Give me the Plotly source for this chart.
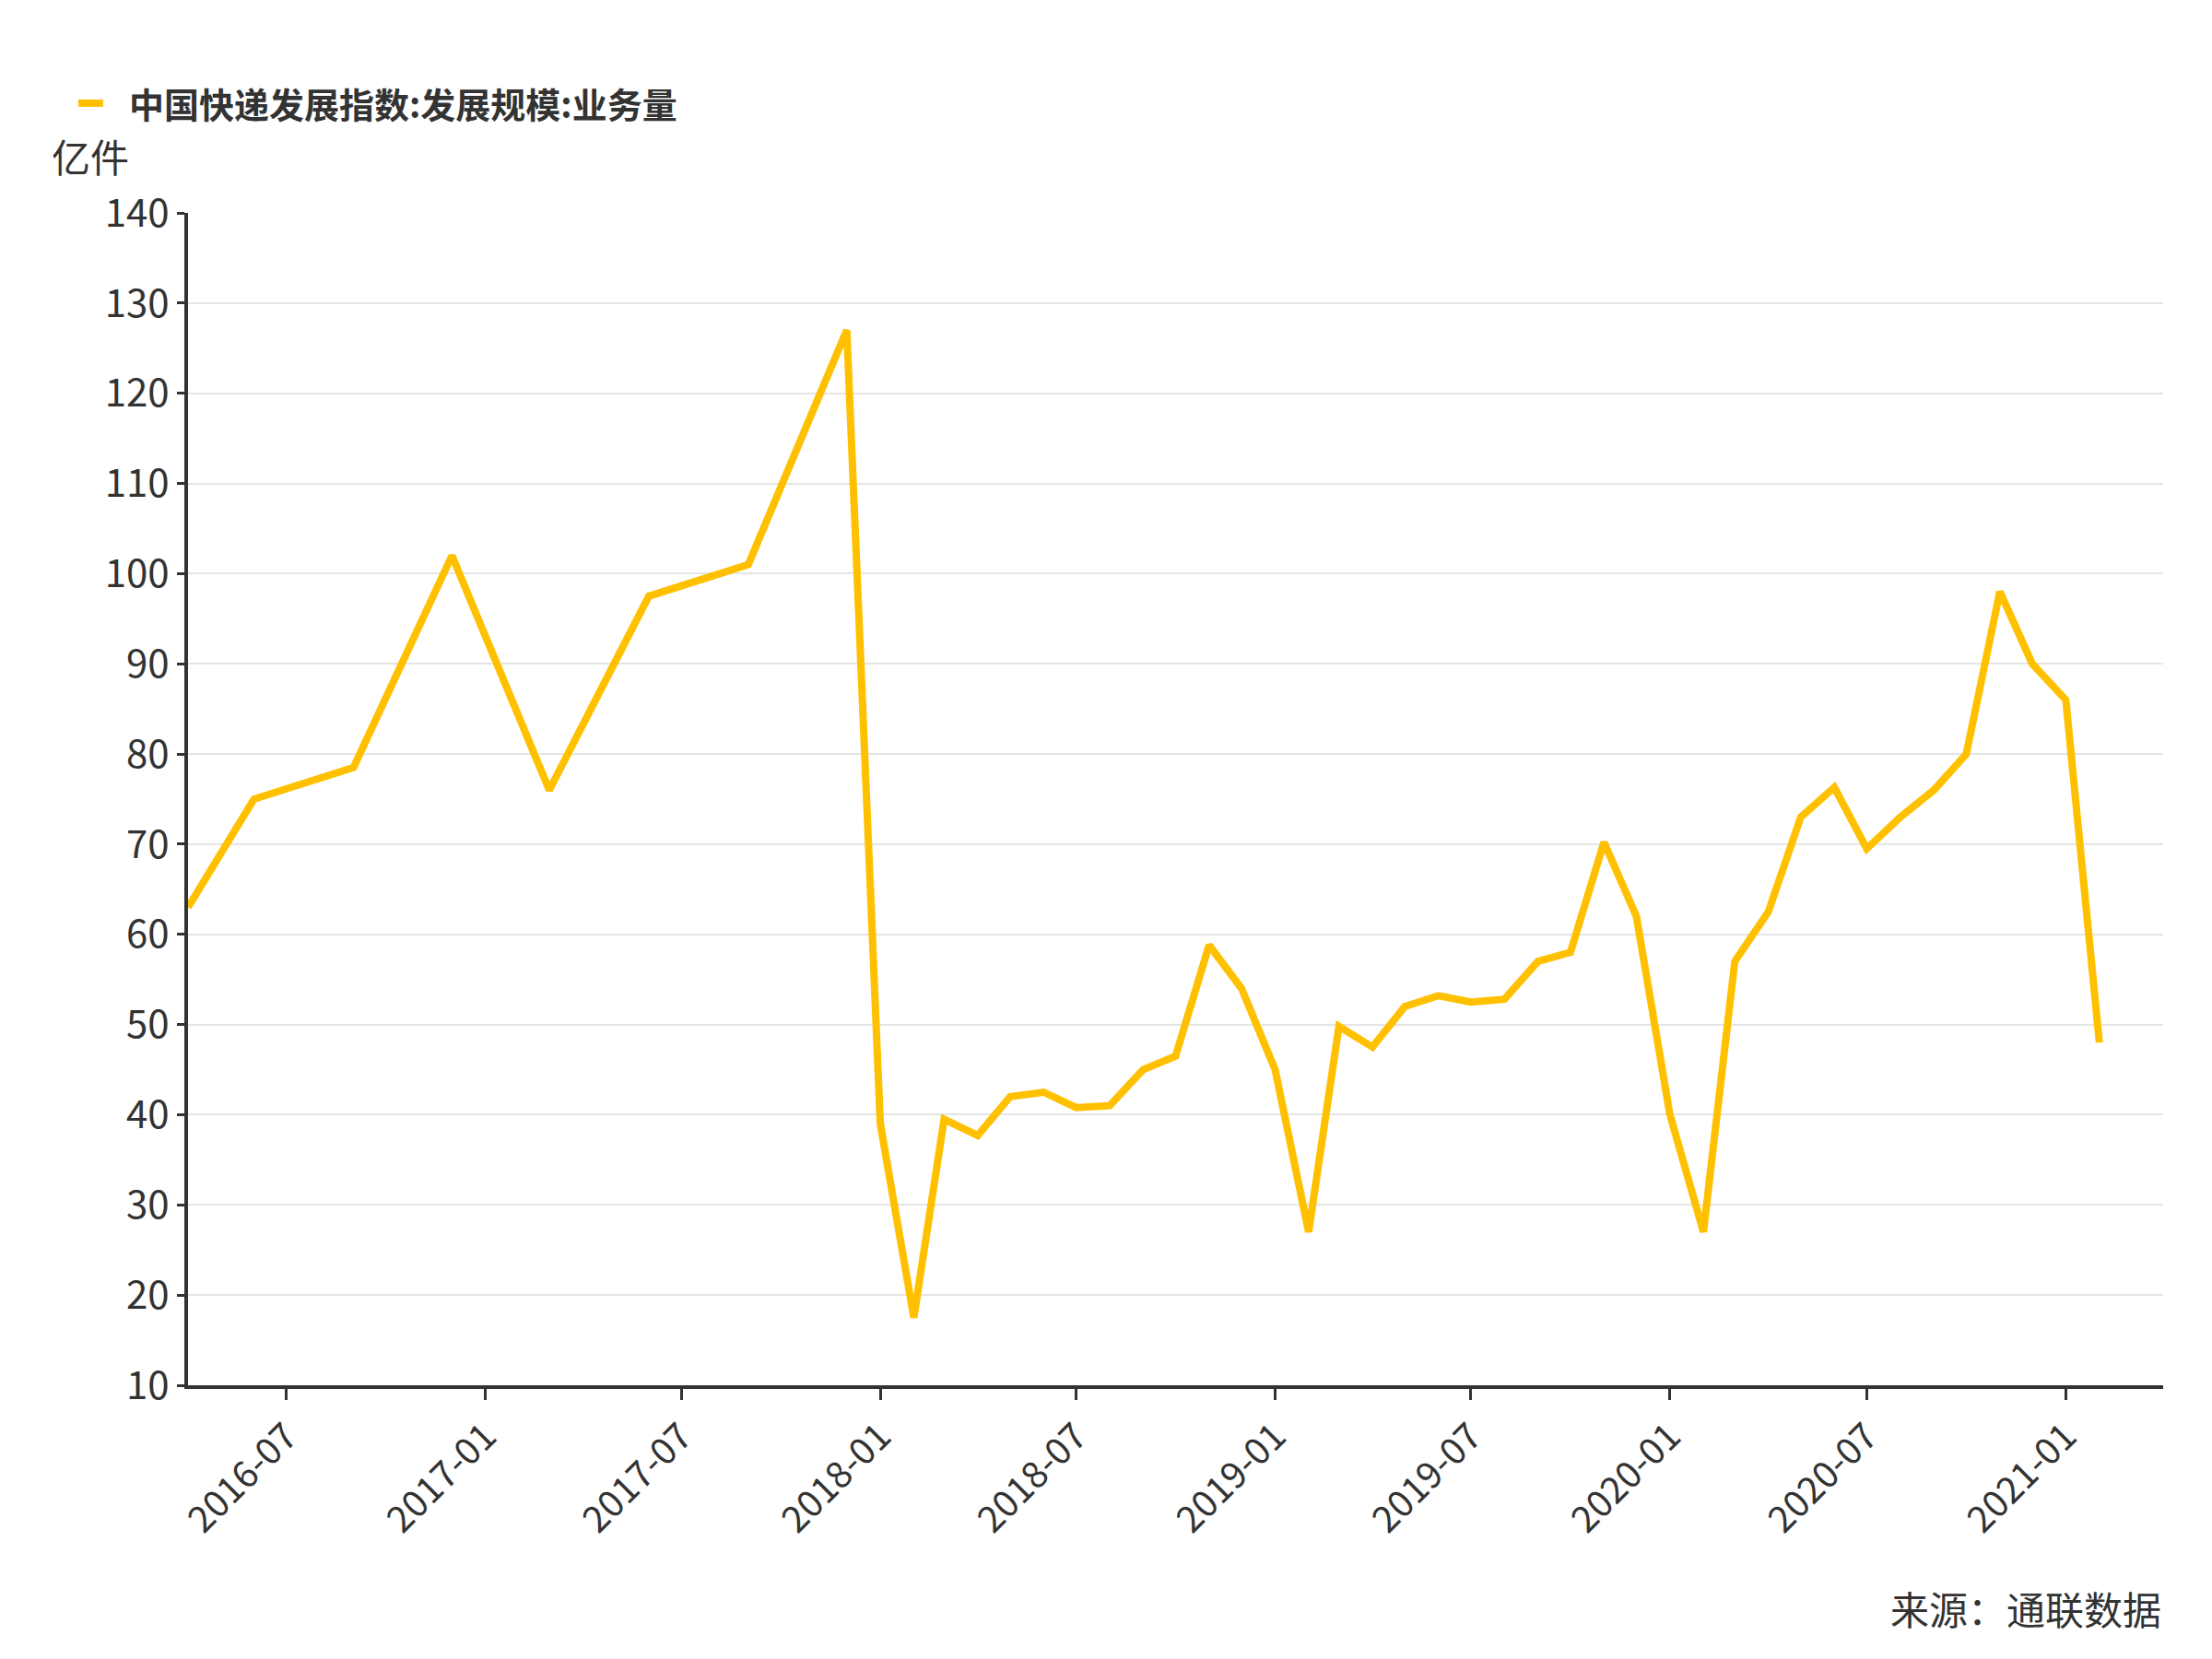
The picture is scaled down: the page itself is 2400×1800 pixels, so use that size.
import pandas as pd
import plotly.graph_objects as go

months = [
    "2016-04", "2016-06", "2016-09", "2016-12", "2017-03", "2017-06", "2017-09", "2017-12",
    "2018-01", "2018-02", "2018-03", "2018-04", "2018-05", "2018-06", "2018-07", "2018-08",
    "2018-09", "2018-10", "2018-11", "2018-12", "2019-01", "2019-02", "2019-03", "2019-04",
    "2019-05", "2019-06", "2019-07", "2019-08", "2019-09", "2019-10", "2019-11", "2019-12",
    "2020-01", "2020-02", "2020-03", "2020-04", "2020-05", "2020-06", "2020-07", "2020-08",
    "2020-09", "2020-10", "2020-11", "2020-12", "2021-01", "2021-02",
]
volume = [
    63, 75, 78.5, 102, 76, 97.5, 101, 127,
    39, 17.5, 39.5, 37.7, 42, 42.5, 40.8, 41,
    45, 46.5, 58.8, 54, 45, 27, 49.8, 47.5,
    52, 53.2, 52.5, 52.8, 57, 58, 70.2, 62,
    40, 27, 57, 62.5, 73, 76.3, 69.5, 73,
    76, 80, 98, 90, 86, 48,
]
tick_vals = ["2016-07", "2017-01", "2017-07", "2018-01", "2018-07", "2019-01",
             "2019-07", "2020-01", "2020-07", "2021-01"]

dates = pd.to_datetime(months)
font = "Noto Sans CJK SC"
gold = "#FFC000"

fig = go.Figure()
fig.add_trace(go.Scatter(
    x=dates, y=volume, mode="lines",
    name="中国快递发展指数:发展规模:业务量",
    line=dict(color=gold, width=8),
    showlegend=False,
))

# legend drawn by hand (dash + bold label)
fig.add_shape(type="line", xref="paper", yref="paper",
              x0=-0.0555, x1=-0.043, y0=1.0936, y1=1.0936,
              line=dict(color=gold, width=8))

fig.update_layout(
    width=2400, height=1800,
    paper_bgcolor="white", plot_bgcolor="white",
    font=dict(family=font, size=40, color="#333333"),
    margin=dict(l=196, r=61, t=223, b=305, autoexpand=False),
    xaxis=dict(
        type="date",
        range=[pd.Timestamp("2016-04-01"), pd.Timestamp("2021-04-01")],
        tickvals=pd.to_datetime(tick_vals), ticktext=tick_vals,
        tickangle=-45, ticks="outside", ticklen=12, tickwidth=3, tickcolor="#333333",
        showline=True, linecolor="#333333", linewidth=4, showgrid=False,
        tickfont=dict(size=40),
    ),
    yaxis=dict(
        range=[10, 140], dtick=10, ticks="outside", ticklen=8, tickwidth=3,
        tickcolor="#333333", showline=True, linecolor="#333333", linewidth=4,
        showgrid=True, gridcolor="#E5E5E5", gridwidth=2, zeroline=False,
        tickfont=dict(size=42),
    ),
    annotations=[
        dict(text="<b>中国快递发展指数:发展规模:业务量</b>", x=-0.031, y=1.0936,
             xref="paper", yref="paper", xanchor="left", yanchor="middle",
             showarrow=False, font=dict(size=38, color="#333333")),
        dict(text="亿件", x=-0.07, y=1.049, xref="paper", yref="paper",
             xanchor="left", yanchor="middle", showarrow=False, font=dict(size=42)),
        dict(text="来源：通联数据", x=1.0, y=-0.19, xref="paper", yref="paper",
             xanchor="right", yanchor="middle", showarrow=False, font=dict(size=42)),
    ],
)

fig.write_html("out.html")
